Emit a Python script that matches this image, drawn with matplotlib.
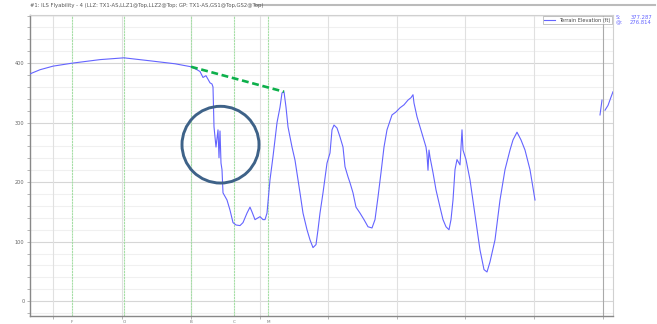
import matplotlib.pyplot as plt
import numpy as np
from matplotlib.patches import Ellipse

# terrain profile along the approach (distance index, elevation in ft)
dist = [0, 10, 23, 42, 70, 94, 120, 145, 161, 167, 170, 173, 176, 180, 182, 183,
        184, 186, 188, 189, 190, 191, 192, 193, 197, 200, 203, 206, 210, 213, 217,
        220, 222, 225, 230, 233, 235, 237, 240, 243, 247, 250, 252, 254, 256, 258,
        262, 265, 268, 270, 273, 277, 280, 283, 286, 288, 290, 293, 297, 300, 302,
        304, 307, 310, 313, 315, 318, 320, 323, 326, 330, 334, 338, 342, 345, 348,
        351, 354, 357, 362, 366, 370, 374, 378, 381, 383, 384, 387, 390, 393, 396,
        397, 398, 399, 400, 403, 406, 410, 413, 416, 419, 421, 423, 425, 427, 430,
        432, 433, 436, 440, 445, 450, 454, 457, 460, 465, 470, 475, 480, 483, 487,
        491, 495, 500, 505]
elev = [382, 389, 395, 400, 406, 409, 404, 399, 394, 389, 386, 376, 379, 367, 365, 360,
        293, 259, 288, 241, 286, 232, 221, 182, 170, 153, 132, 128, 127, 132, 148,
        158, 150, 137, 142, 137, 137, 148, 204, 243, 300, 326, 350, 352, 326, 293,
        259, 237, 204, 182, 148, 120, 103, 90, 95, 120, 148, 182, 232, 249, 288,
        296, 291, 276, 259, 226, 209, 199, 182, 158, 148, 137, 125, 123, 137, 175,
        216, 259, 288, 313, 318, 325, 330, 338, 342, 347, 333, 310, 293, 276, 259,
        246, 220, 254, 242, 216, 187, 158, 137, 125, 120, 137, 170, 221, 238, 229,
        288, 254, 238, 204, 145, 86, 53, 49, 66, 103, 170, 221, 254, 271, 284,
        271, 254, 221, 170]

# short stretch at the runway end
dist_end = [570, 572, 575, 578, 581, 583]
elev_end = [313, 338, 321, 329, 343, 352]

grid_x = [23, 92, 161, 230, 298, 367, 435, 504, 573]
marker_x = [42, 94, 161, 204, 238]
marker_labels = ["F", "O", "B", "C", "M"]

title = "#1: ILS Flyability - 4 (LLZ: TX1-AS,LLZ1@Top,LLZ2@Top; GP: TX1-AS,GS1@Top,GS2@Top)"

fig = plt.figure(figsize=(6.57, 3.24), dpi=100)
ax = fig.add_axes([30 / 657, 8 / 324, 583 / 657, 301 / 324])
ax.set_xlim(0, 583)
ax.set_ylim(-25, 481)

for y in np.arange(-20, 481, 20):
    major = y % 100 == 0
    ax.axhline(y, color="#d6d6d6" if major else "#f0f0f0", lw=0.8, zorder=0)
for i, x in enumerate(grid_x):
    ax.axvline(x, color="#aaaaaa" if i == len(grid_x) - 1 else "#e0e0e0", lw=0.8, zorder=0)
for x in marker_x:
    ax.axvline(x, color="#a6dea6", lw=0.8, ls=(0, (2, 0.6)), zorder=1)

ax.plot(dist, elev, color="#6464ff", lw=0.8, zorder=3, label="Terrain Elevation (ft)")
ax.plot(dist_end[:2], elev_end[:2], color="#6464ff", lw=0.8, zorder=3)
ax.plot(dist_end[2:], elev_end[2:], color="#6464ff", lw=0.8, zorder=3)

# gradient line from the profile break to the first ridge
i0, i1 = dist.index(161), dist.index(254)
ax.plot([dist[i0], dist[i1]], [elev[i0], elev[i1]], color="#0db04b", lw=1.9,
        ls=(0, (2.6, 1.4)), zorder=4)

# highlight around the glitch in the profile
ax.add_patch(Ellipse((190.5, 263), 77, 129, fill=False, ec="#3e6288", lw=2.1, zorder=5))

ax.set_yticks([0, 100, 200, 300, 400])
ax.set_yticks(np.arange(-20, 481, 20), minor=True)
ax.tick_params(axis="y", which="both", length=2, width=0.5, color="#999999",
               labelsize=3.6, labelcolor="#666666", pad=2)
ax.set_xticks(grid_x)
ax.set_xticklabels([])
ax.tick_params(axis="x", length=2, width=0.5, color="#999999")
for x, lab in zip(marker_x, marker_labels):
    ax.text(x, -0.012, lab, transform=ax.get_xaxis_transform(), ha="center",
            va="top", fontsize=3, color="#777777")

for side in ["left", "bottom"]:
    ax.spines[side].set_color("#888888")
    ax.spines[side].set_linewidth(1.0)
for side in ["top", "right"]:
    ax.spines[side].set_color("#d0d0d0")
    ax.spines[side].set_linewidth(0.8)

leg = ax.legend(loc="upper right", fontsize=3.6, frameon=True, fancybox=False,
                handlelength=2.2, borderpad=0.3, borderaxespad=0.25, labelcolor="#444444")
leg.get_frame().set_edgecolor("#999999")
leg.get_frame().set_linewidth(0.5)

fig.text(30 / 657, 1 - 5 / 324, title, fontsize=3.8, color="#555555", va="center")
fig.add_artist(plt.Line2D([255 / 657, 655 / 657], [1 - 5 / 324] * 2,
                          color="#bbbbbb", lw=1.5, transform=fig.transFigure))
fig.text(616 / 657, 1 - 20 / 324, "S:\n@:", fontsize=3.8, color="#6464ff", va="center",
         linespacing=1.1)
fig.text(652 / 657, 1 - 20 / 324, "377.287\n276.814", fontsize=3.8, color="#6464ff",
         va="center", ha="right", linespacing=1.1)

fig.savefig("out.png", dpi=100)
